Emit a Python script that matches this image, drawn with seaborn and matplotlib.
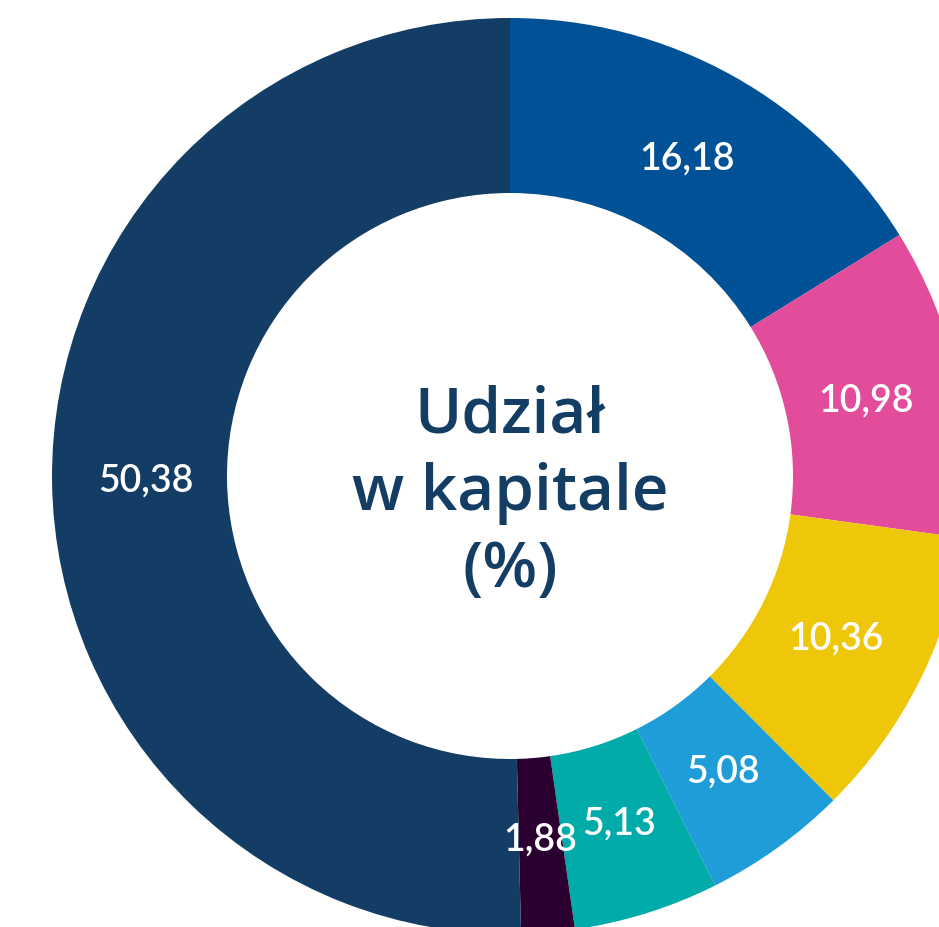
import matplotlib
matplotlib.use("Agg")
import matplotlib.pyplot as plt
import seaborn as sns
import numpy as np

sns.set_theme(style="white")
plt.rcParams['font.family'] = ['Lato', 'DejaVu Sans']

labels = ["16,18", "10,98", "10,36", "5,08", "5,13", "1,88", "50,38"]
values = [16.18, 10.98, 10.36, 5.08, 5.13, 1.88, 50.38]
colors = ["#005195", "#E34B9B", "#EFC70A", "#1F9DD9", "#00ABA9", "#2B0030", "#133D64"]
center_text = "Udział\nw kapitale\n(%)"

W, H = 939, 928
cx, cy = 510, 477
R = 458
fig = plt.figure(figsize=(W / 100, H / 100), dpi=100)
ax = fig.add_axes([0, 0, 1, 1])

wedges, _ = ax.pie(values, colors=colors, startangle=90, counterclock=False,
                   radius=1.0, wedgeprops=dict(width=(458 - 283) / 458, linewidth=0))

ax.set_xlim(-cx / R, (W - cx) / R)
ax.set_ylim(-(H - cy) / R, cy / R)
ax.set_aspect('equal')
ax.axis('off')

rlab = 0.795
for w, lab in zip(wedges, labels):
    ang = np.deg2rad((w.theta1 + w.theta2) / 2)
    ax.text(rlab * np.cos(ang), rlab * np.sin(ang), lab, color="white",
            ha="center", va="center", fontsize=27, fontweight="semibold")

ax.text(0, -0.035, center_text, color="#143D64", ha="center", va="center",
        fontsize=46, linespacing=1.3, fontweight="semibold",
        family=['Open Sans', 'DejaVu Sans'])

fig.savefig("out.png", dpi=100)
